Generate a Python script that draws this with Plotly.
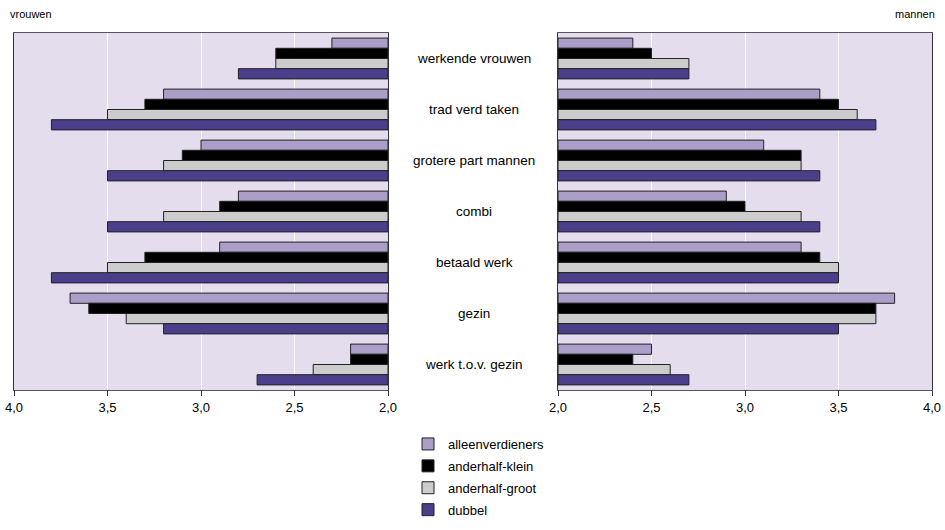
import plotly.graph_objects as go

categories = ["werkende vrouwen", "trad verd taken", "grotere part mannen", "combi",
              "betaald werk", "gezin", "werk t.o.v. gezin"]
series_names = ["alleenverdieners", "anderhalf-klein", "anderhalf-groot", "dubbel"]

vrouwen_alleen = [2.3, 3.2, 3.0, 2.8, 2.9, 3.7, 2.2]
vrouwen_klein = [2.6, 3.3, 3.1, 2.9, 3.3, 3.6, 2.2]
vrouwen_groot = [2.6, 3.5, 3.2, 3.2, 3.5, 3.4, 2.4]
vrouwen_dubbel = [2.8, 3.8, 3.5, 3.5, 3.8, 3.2, 2.7]

mannen_alleen = [2.4, 3.4, 3.1, 2.9, 3.3, 3.8, 2.5]
mannen_klein = [2.5, 3.5, 3.3, 3.0, 3.4, 3.7, 2.4]
mannen_groot = [2.7, 3.6, 3.3, 3.3, 3.5, 3.7, 2.6]
mannen_dubbel = [2.7, 3.7, 3.4, 3.4, 3.5, 3.5, 2.7]

tick_vals = [2.0, 2.5, 3.0, 3.5, 4.0]
tick_text = ["2,0", "2,5", "3,0", "3,5", "4,0"]

colors = ["#ab9fca", "#000000", "#cccccc", "#4b3f8b"]
base = 2.0

vrouwen = [vrouwen_alleen, vrouwen_klein, vrouwen_groot, vrouwen_dubbel]
mannen = [mannen_alleen, mannen_klein, mannen_groot, mannen_dubbel]

FONT = "Liberation Sans, Arial, sans-serif"

fig = go.Figure()
for i, name in enumerate(series_names):
    fig.add_trace(go.Bar(
        y=categories, x=[v - base for v in vrouwen[i]], base=base, orientation="h",
        name=name, marker=dict(color=colors[i], line=dict(color="#222222", width=1)),
        xaxis="x", yaxis="y", legendgroup=name, showlegend=True,
    ))
for i, name in enumerate(series_names):
    fig.add_trace(go.Bar(
        y=categories, x=[v - base for v in mannen[i]], base=base, orientation="h",
        name=name, marker=dict(color=colors[i], line=dict(color="#222222", width=1)),
        xaxis="x2", yaxis="y2", legendgroup=name, showlegend=False,
    ))

ydom = [1 - 390 / 530, 1 - 33 / 530]
axis_common = dict(
    tickvals=tick_vals, ticktext=tick_text, showgrid=True, automargin=False,
    gridcolor="#ffffff", gridwidth=1, zeroline=False, showline=True, linecolor="#555555",
    linewidth=1, mirror=True, ticks="outside", ticklen=5, tickcolor="#333333",
    tickfont=dict(size=13, color="#000000", family=FONT),
)
fig.update_layout(
    width=945, height=530,
    margin=dict(l=0, r=0, t=0, b=0, autoexpand=False),
    paper_bgcolor="#ffffff", plot_bgcolor="#e3ddee",
    barmode="group", bargap=0.2, bargroupgap=0.0,
    font=dict(family=FONT, size=13, color="#000000"),
    xaxis=dict(domain=[14 / 945, 388 / 945], range=[4.0, 2.0], **axis_common),
    xaxis2=dict(domain=[558 / 945, 932 / 945], range=[2.0, 4.0], **axis_common),
    yaxis=dict(domain=ydom, anchor="x", autorange="reversed", showticklabels=False,
               automargin=False, showline=True, linecolor="#333333", mirror=True,
               ticks="", showgrid=False),
    yaxis2=dict(domain=ydom, anchor="x2", autorange="reversed", showticklabels=False,
                automargin=False, showline=True, linecolor="#333333", mirror=True,
                ticks="", showgrid=False, side="right"),
    legend=dict(x=408 / 945, y=1 - 429 / 530, xanchor="left", yanchor="top",
                orientation="v", font=dict(size=13, family=FONT), tracegroupgap=2,
                bgcolor="rgba(0,0,0,0)"),
    showlegend=True,
)

for c in categories:
    fig.add_annotation(x=474 / 945, xref="paper", y=c, yref="y", text=c,
                       showarrow=False, xanchor="center", yanchor="middle",
                       font=dict(size=13.5, family=FONT, color="#000000"))

fig.add_annotation(x=8 / 945, y=1 - 14 / 530, xref="paper", yref="paper", text="vrouwen",
                   showarrow=False, xanchor="left", yanchor="middle",
                   font=dict(size=11, family=FONT))
fig.add_annotation(x=937 / 945, y=1 - 14 / 530, xref="paper", yref="paper", text="mannen",
                   showarrow=False, xanchor="right", yanchor="middle",
                   font=dict(size=11, family=FONT))

fig.write_html("out.html",
               config={"displayModeBar": False},
               post_script="document.body.style.margin='0';document.body.style.overflow='hidden';")
